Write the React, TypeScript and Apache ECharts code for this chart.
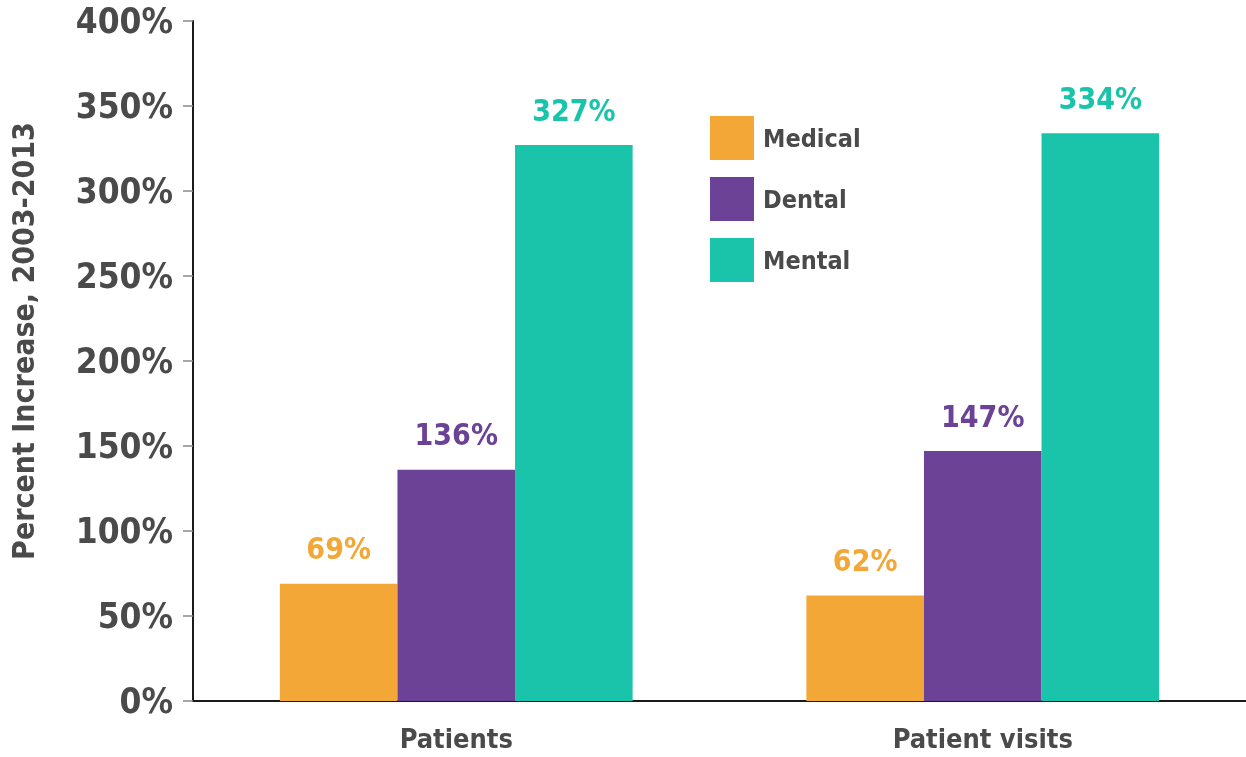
import React, { useEffect, useRef } from "react";
import * as echarts from "echarts";

const categories = ["Patients", "Patient visits"];
const seriesNames = ["Medical", "Dental", "Mental"];
const medical = [69, 62];
const dental = [136, 147];
const mental = [327, 334];
const colors = ["#F3A737", "#6B4295", "#1AC4AA"];
const yTicks = [0, 50, 100, 150, 200, 250, 300, 350, 400];

const FONT = "'Liberation Sans Narrow', 'DejaVu Sans Condensed', sans-serif";
const TEXT = "#4a4a4a";

export default function App() {
  const ref = useRef<HTMLDivElement>(null);
  useEffect(() => {
    document.body.style.margin = "0";
    const chart = echarts.init(ref.current!, null, { renderer: "svg" });
    const values = [medical, dental, mental];
    chart.setOption({
      animation: false,
      textStyle: { fontFamily: FONT },
      grid: { left: 193, right: 0, top: 21, bottom: 56, containLabel: false },
      legend: {
        orient: "vertical",
        left: 705,
        top: 111,
        itemWidth: 44,
        itemHeight: 44,
        itemGap: 17,
        icon: "rect",
        data: seriesNames,
        textStyle: { fontFamily: FONT, fontWeight: "bold", fontSize: 25, color: TEXT, padding: [0, 0, 0, 4] },
      },
      xAxis: {
        type: "category",
        data: categories,
        axisLine: { lineStyle: { color: "#1a1a1a", width: 2 } },
        axisTick: { show: false },
        axisLabel: { fontFamily: FONT, fontWeight: "bold", fontSize: 27, color: TEXT, margin: 24 },
      },
      yAxis: {
        type: "value",
        min: yTicks[0],
        max: yTicks[yTicks.length - 1],
        interval: 50,
        name: "Percent Increase, 2003-2013",
        nameLocation: "middle",
        nameRotate: 90,
        nameGap: 155,
        nameTextStyle: { fontFamily: FONT, fontWeight: "bold", fontSize: 30, color: TEXT, padding: [0, 0, 0, 40] },
        axisLine: { show: true, lineStyle: { color: "#1a1a1a", width: 2 } },
        axisTick: { show: true, length: 10, lineStyle: { color: "#888", width: 1.5 } },
        splitLine: { show: false },
        axisLabel: {
          fontFamily: FONT,
          fontWeight: "bold",
          fontSize: 35,
          color: TEXT,
          margin: 20,
          formatter: (v: number) => v + "%",
        },
      },
      series: seriesNames.map((name, i) => ({
        name,
        type: "bar",
        data: values[i],
        barGap: "0%",
        barCategoryGap: "33%",
        itemStyle: { color: colors[i] },
        label: {
          show: true,
          position: "top",
          distance: 20,
          formatter: "{c}%",
          fontFamily: FONT,
          fontWeight: "bold",
          fontSize: 30,
          color: colors[i],
        },
      })),
    });
    return () => chart.dispose();
  }, []);
  return <div ref={ref} style={{ position: "fixed", left: 0, top: 0, width: 1246, height: 757 }} />;
}
